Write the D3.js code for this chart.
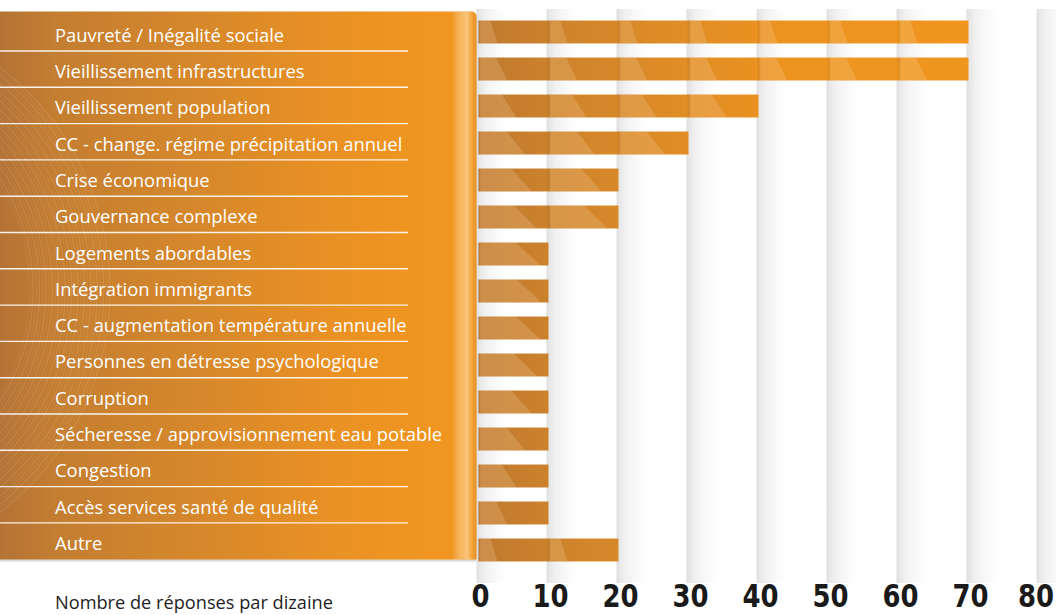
<!DOCTYPE html>
<html>
<head>
<meta charset="utf-8">
<script src="https://cdn.jsdelivr.net/npm/d3@7/dist/d3.min.js"></script>
<style>
  html, body { margin: 0; padding: 0; background: #ffffff; }
  svg { display: block; }
</style>
</head>
<body>
<svg id="chart" width="1056" height="615"></svg>
<script>
// ---- Data ----
const categories = [
  "Pauvreté / Inégalité sociale",
  "Vieillissement infrastructures",
  "Vieillissement population",
  "CC - change. régime précipitation annuel",
  "Crise économique",
  "Gouvernance complexe",
  "Logements abordables",
  "Intégration immigrants",
  "CC - augmentation température annuelle",
  "Personnes en détresse psychologique",
  "Corruption",
  "Sécheresse / approvisionnement eau potable",
  "Congestion",
  "Accès services santé de qualité",
  "Autre"
];
const values = [70, 70, 40, 30, 20, 20, 10, 10, 10, 10, 10, 10, 10, 10, 20];
const tickValues = [0, 10, 20, 30, 40, 50, 60, 70, 80];
const axisTitle = "Nombre de réponses par dizaine";

// ---- Setup ----
const svg = d3.select("#chart");
const W = 1056, H = 615;

const x = d3.scaleLinear().domain([0, 80]).range([478.5, 1038.5]);
const y = d3.scaleBand().domain(categories).range([13.5, 568.5])
  .paddingInner(0.38).paddingOuter(0.19);
const yl = d3.scaleBand().domain(categories).range([14.7, 14.7 + 15 * 36.3]);

const defs = svg.append("defs");

// grid stripe gradient
const gg = defs.append("linearGradient").attr("id", "gridGrad")
  .attr("x1", 0).attr("x2", 1).attr("y1", 0).attr("y2", 0);
[[0, "#dedede", 1], [0.07, "#e6e6e6", 1], [0.25, "#f1f1f1", 1], [0.6, "#fafafa", 1], [1, "#ffffff", 0]]
  .forEach(s => gg.append("stop").attr("offset", s[0]).attr("stop-color", s[1]).attr("stop-opacity", s[2]));

// bar gradient (user space across bar area)
const bg = defs.append("linearGradient").attr("id", "barGrad")
  .attr("gradientUnits", "userSpaceOnUse")
  .attr("x1", x(0)).attr("x2", x(70)).attr("y1", 0).attr("y2", 0);
[[0, "#bf792f"], [0.2, "#d1852b"], [0.42, "#e08d25"], [0.62, "#ec931f"], [1, "#f0961f"]]
  .forEach(s => bg.append("stop").attr("offset", s[0]).attr("stop-color", s[1]));

// panel gradient
const pg = defs.append("linearGradient").attr("id", "panelGrad")
  .attr("gradientUnits", "userSpaceOnUse")
  .attr("x1", 0).attr("x2", 476).attr("y1", 0).attr("y2", 0);
[[0, "#b47336"], [0.12, "#c47e31"], [0.4, "#d5872b"], [0.7, "#e99124"], [0.9, "#f09520"], [1, "#f0951f"]]
  .forEach(s => pg.append("stop").attr("offset", s[0]).attr("stop-color", s[1]));

// panel edge highlight
const hg = defs.append("linearGradient").attr("id", "hiGrad")
  .attr("x1", 0).attr("x2", 1).attr("y1", 0).attr("y2", 0);
[[0, "#ffffff", 0], [0.45, "#ffd9a0", 0.55], [0.62, "#ffe0b0", 0.65], [0.85, "#fbb35a", 0.35], [1, "#c9802e", 0.4]]
  .forEach(s => hg.append("stop").attr("offset", s[0]).attr("stop-color", s[1]).attr("stop-opacity", s[2]));

// shadow below panel
const sg = defs.append("linearGradient").attr("id", "shadowGrad")
  .attr("x1", 0).attr("x2", 0).attr("y1", 0).attr("y2", 1);
[[0, "#9a9a9a", 0.7], [1, "#ffffff", 0]]
  .forEach(s => sg.append("stop").attr("offset", s[0]).attr("stop-color", s[1]).attr("stop-opacity", s[2]));

// background
svg.append("rect").attr("width", W).attr("height", H).attr("fill", "#ffffff");

// ---- Grid stripes ----
svg.append("g").selectAll("rect").data(tickValues).join("rect")
  .attr("x", d => x(d) - 2)
  .attr("y", 9)
  .attr("width", 36)
  .attr("height", 574)
  .attr("fill", "url(#gridGrad)");

// ---- Bars ----
const barsG = svg.append("g");
barsG.selectAll("rect").data(categories).join("rect")
  .attr("x", x(0))
  .attr("y", d => y(d))
  .attr("width", (d, i) => x(values[i]) - x(0))
  .attr("height", y.bandwidth())
  .attr("fill", "url(#barGrad)");

// light wedges on bars at each gridline (decorative)
const wedgeData = [];
categories.forEach((c, i) => {
  tickValues.forEach(t => {
    if (t < values[i]) wedgeData.push({ c, i, t });
  });
});
const n = categories.length;
barsG.append("g").selectAll("path").data(wedgeData).join("path")
  .attr("d", d => {
    const w = 18 + 44 * Math.sin(Math.PI * d.i / (n - 1));
    const x0 = x(d.t) + 1, y0 = y(d.c), y1 = y0 + y.bandwidth();
    const xe = Math.min(x0 + w, x(values[d.i]));
    const xs = Math.min(x0 + w * 0.6, x(values[d.i]));
    return `M${x0},${y0}H${xs}L${xe},${y1}H${x0}Z`;
  })
  .attr("fill", "#ffe2b8")
  .attr("fill-opacity", 0.2);
barsG.append("g").selectAll("rect").data(wedgeData).join("rect")
  .attr("x", d => x(d.t) - 1)
  .attr("y", d => y(d.c))
  .attr("width", 3)
  .attr("height", y.bandwidth())
  .attr("fill", "#000")
  .attr("fill-opacity", 0.05);

// ---- Left panel ----
svg.append("rect").attr("x", -5).attr("y", 559.5).attr("width", 481).attr("height", 4)
  .attr("fill", "url(#shadowGrad)");
svg.append("path")
  .attr("d", "M-5,11.5H471Q476.5,11.5 476.5,17V559.5H-5Z")
  .attr("fill", "url(#panelGrad)");

// subtle moiré arcs on the left of the panel
const arcG = svg.append("g");
arcG.append("clipPath").attr("id", "leftClip").append("rect")
  .attr("x", 0).attr("y", 11.5).attr("width", 110).attr("height", 548);
const arcs = d3.range(0, 26);
arcG.append("g").attr("clip-path", "url(#leftClip)")
  .selectAll("circle").data(arcs).join("circle")
  .attr("cx", -170).attr("cy", 290)
  .attr("r", d => 200 + d * 3.2)
  .attr("fill", "none")
  .attr("stroke", "#ffffff")
  .attr("stroke-opacity", d => 0.05 + 0.05 * (d % 2))
  .attr("stroke-width", 1.2);

svg.append("path")
  .attr("d", "M452,11.5H471Q476.5,11.5 476.5,17V559.5H452Z")
  .attr("fill", "url(#hiGrad)");

// separators
const seps = categories.slice(1);
svg.append("g").selectAll("line").data(seps).join("line")
  .attr("x1", 0).attr("x2", 408)
  .attr("y1", d => yl(d)).attr("y2", d => yl(d))
  .attr("stroke", "#ffffff").attr("stroke-opacity", 0.9).attr("stroke-width", 1.4);

// labels
svg.append("g").selectAll("text").data(categories).join("text")
  .attr("x", 55)
  .attr("y", d => yl(d) + 27)
  .attr("fill", "#ffffff")
  .attr("font-family", "'Open Sans', 'Noto Sans', sans-serif")
  .attr("font-size", 18.4)
  .text(d => d);

// ---- Axis ----
const axis = d3.axisBottom(x).tickValues(tickValues).tickSize(0).tickPadding(0)
  .tickFormat(d3.format("d"));
const axG = svg.append("g").attr("transform", "translate(1.5,607)").call(axis);
axG.select(".domain").remove();
axG.selectAll("text")
  .attr("y", 0).attr("dy", 0)
  .attr("x", d => d === 80 ? -5 : 0)
  .attr("transform", "scale(0.9,1)")
  .attr("fill", "#1a1a1a")
  .attr("font-family", "'DejaVu Sans Condensed', 'DejaVu Sans', sans-serif")
  .attr("font-weight", "bold")
  .attr("font-size", 32);

svg.append("text")
  .attr("x", 55).attr("y", 609)
  .attr("fill", "#1e1e1e")
  .attr("font-family", "'Open Sans', 'Noto Sans', sans-serif")
  .attr("font-size", 18.2)
  .text(axisTitle);
</script>
</body>
</html>
